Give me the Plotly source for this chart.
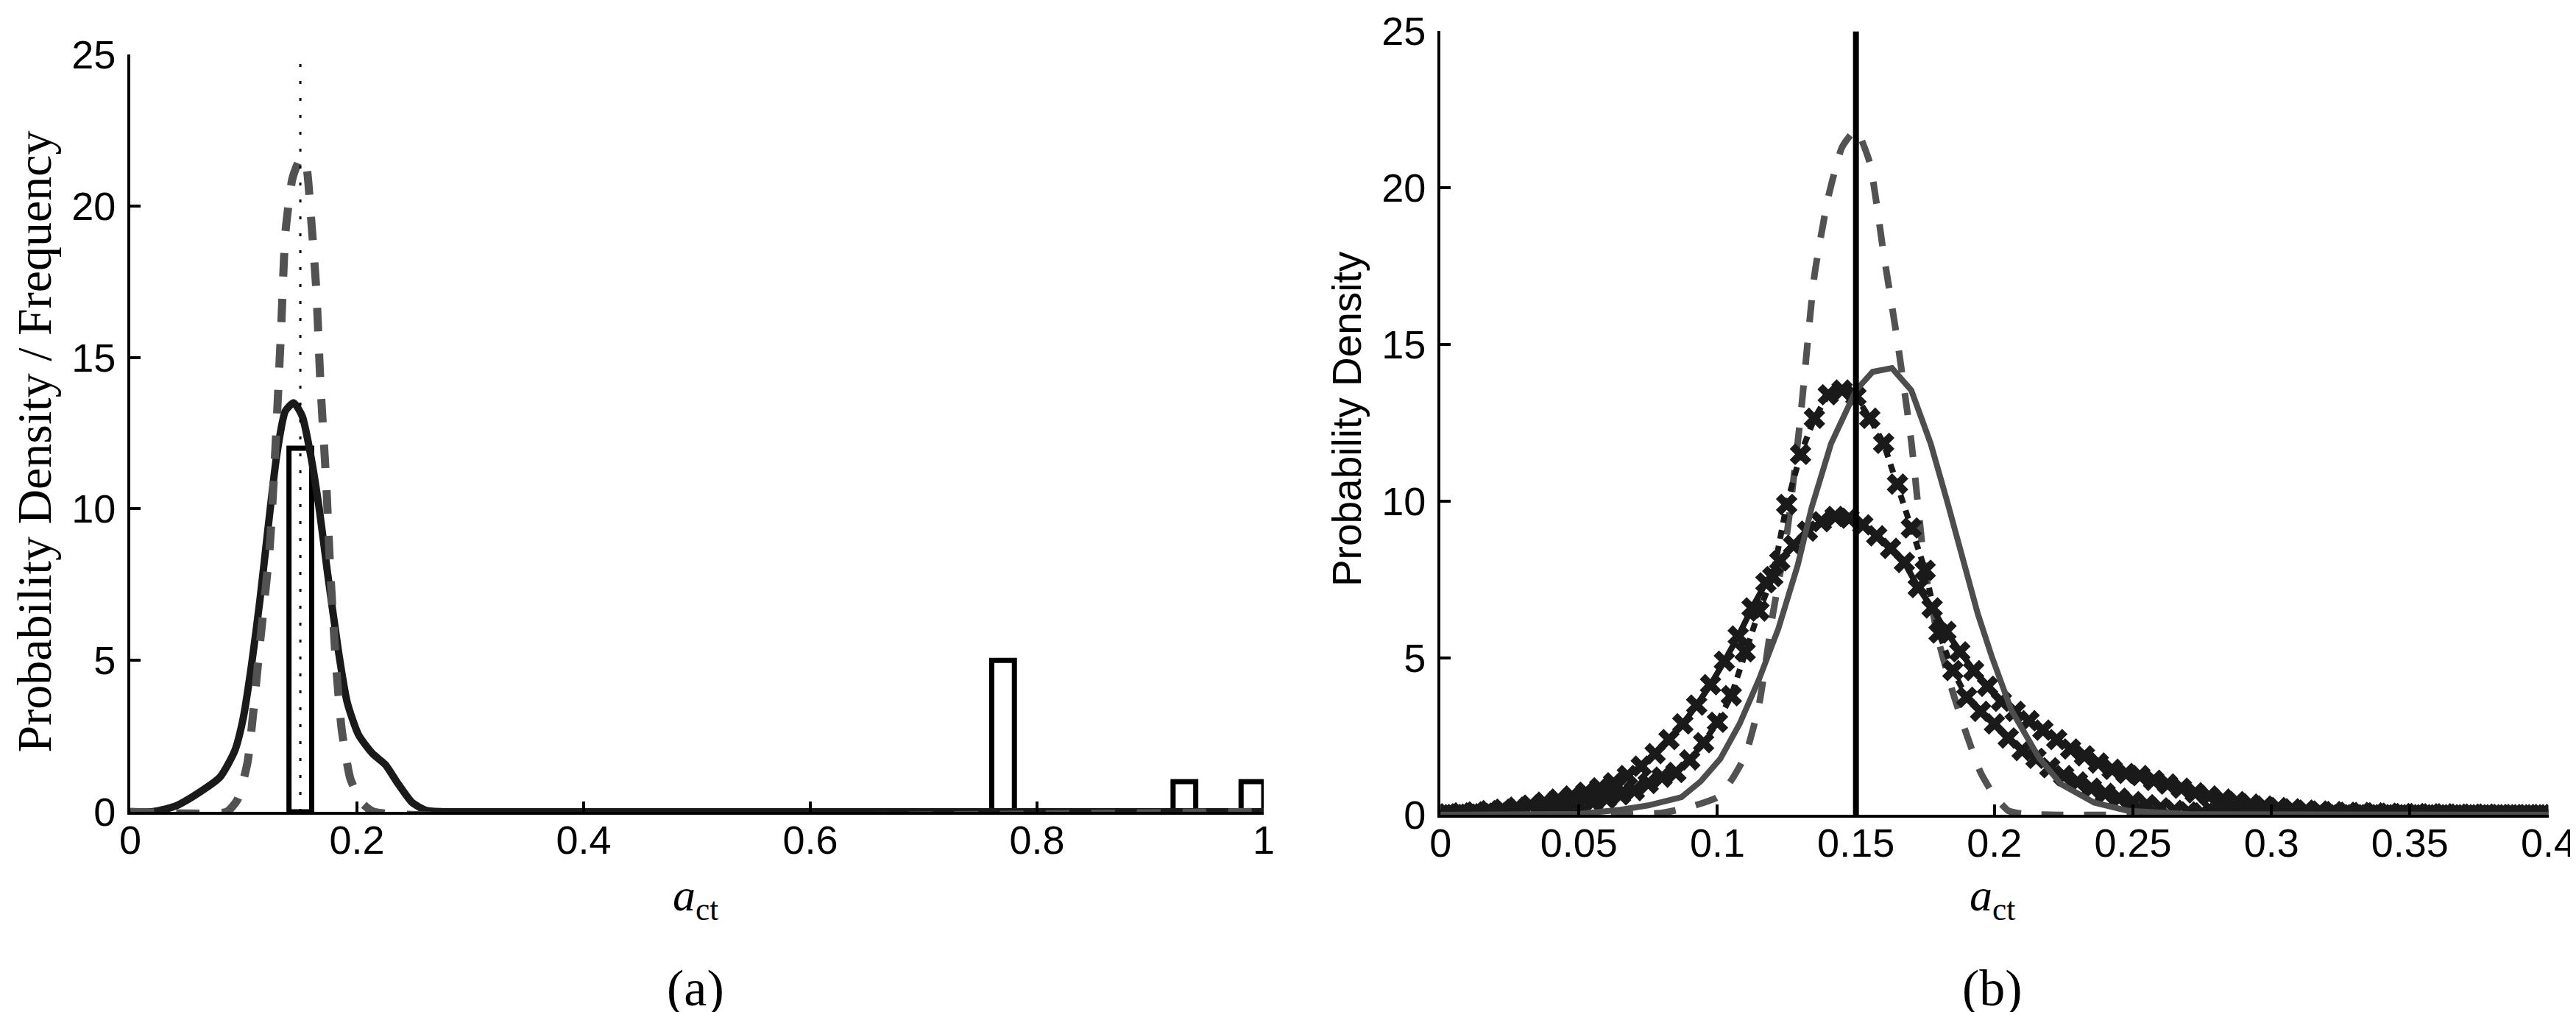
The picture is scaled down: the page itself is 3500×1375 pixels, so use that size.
import plotly.graph_objects as go

# ---- panel (a): histogram + densities ----
hist_centers = [0.15, 0.77, 0.93, 0.99]
hist_counts = [12, 5, 1, 1]
hist_width = 0.02

kde_x = [0, 0.02, 0.04, 0.062, 0.079, 0.092, 0.0995, 0.107, 0.1144, 0.1219, 0.1293,
         0.1368, 0.1442, 0.1517, 0.159, 0.1666, 0.174, 0.184, 0.1914, 0.2014, 0.2138,
         0.225, 0.236, 0.2486, 0.261, 0.28, 1.0]
kde_y = [0, 0.01, 0.19, 0.67, 1.14, 2.0, 3.07, 4.86, 7.0, 9.49, 11.8,
         13.23, 13.5, 13.06, 11.8, 10.03, 7.89, 5.21, 3.61, 2.54, 1.92,
         1.56, 0.94, 0.31, 0.05, 0, 0]

prior_a_x = [0, 0.085, 0.0945, 0.1035, 0.1144, 0.1231, 0.128, 0.133, 0.1368, 0.143,
             0.1505, 0.1555, 0.159, 0.164, 0.1678, 0.1728, 0.1765, 0.1815, 0.1865,
             0.194, 0.204, 0.215, 1.0]
prior_a_y = [0, 0, 0.4, 1.65, 5.57, 8.78, 11.99, 15.9, 19.1, 20.9,
             21.6, 21.26, 19.83, 17.3, 14.1, 10.9, 7.9, 4.86, 2.72,
             1.11, 0.31, 0, 0]

true_value = 0.15

# ---- panel (b): densities ----
prior_b_x = [0, 0.06, 0.08, 0.09, 0.1, 0.105, 0.11, 0.115, 0.12, 0.125, 0.13, 0.135,
             0.14, 0.145, 0.15, 0.155, 0.16, 0.165, 0.17, 0.175, 0.18, 0.185, 0.19,
             0.195, 0.2, 0.205, 0.21, 0.22, 0.4]
prior_b_y = [0, 0, 0.06, 0.25, 0.56, 1.1, 1.88, 3.5, 6.4, 8.9, 12.7, 17.2,
             19.7, 21.3, 21.85, 20.8, 17.9, 15.1, 11.9, 7.8, 5.5, 3.9, 2.55,
             1.35, 0.6, 0.13, 0.03, 0, 0]

post_x = [0, 0.05, 0.065, 0.075, 0.087, 0.094, 0.101, 0.108, 0.115, 0.122, 0.129,
          0.134, 0.141, 0.15, 0.156, 0.163, 0.17, 0.177, 0.183, 0.189, 0.194, 0.199,
          0.206, 0.216, 0.224, 0.236, 0.248, 0.271, 0.4]
post_y = [0, 0.03, 0.16, 0.3, 0.56, 1.07, 1.78, 2.9, 4.32, 5.94, 7.97,
          9.8, 11.84, 13.54, 14.13, 14.25, 13.54, 11.84, 9.98, 8.11, 6.41, 5.06,
          3.36, 1.83, 0.98, 0.39, 0.13, 0.02, 0]

narrow_x = [0, 0.005, 0.01, 0.015, 0.02, 0.025, 0.03, 0.035, 0.04, 0.045,
            0.05, 0.055, 0.06, 0.065, 0.07, 0.075, 0.08, 0.085, 0.09, 0.095,
            0.1, 0.105, 0.11, 0.115, 0.12, 0.125, 0.13, 0.135, 0.14, 0.145,
            0.15, 0.155, 0.16, 0.165, 0.17, 0.175, 0.18, 0.185, 0.19, 0.195,
            0.2, 0.205, 0.21, 0.215, 0.22, 0.225, 0.23, 0.235, 0.24, 0.245,
            0.25, 0.255, 0.26, 0.265, 0.27, 0.275, 0.28, 0.285, 0.29, 0.295,
            0.3, 0.305, 0.31, 0.315, 0.32, 0.325, 0.33, 0.335, 0.34, 0.345,
            0.35, 0.355, 0.36, 0.365, 0.37, 0.375, 0.38, 0.385, 0.39, 0.395, 0.4]
narrow_y = [0.0, 0.01, 0.02, 0.03, 0.05, 0.07, 0.09, 0.12, 0.15, 0.22,
            0.3, 0.4, 0.52, 0.64, 0.77, 1.0, 1.2, 1.35, 1.75, 2.3,
            2.95, 3.8, 5.2, 6.5, 7.6, 9.9, 11.5, 12.65, 13.4, 13.55,
            13.35, 12.65, 11.85, 10.55, 9.15, 7.8, 5.8, 4.6, 3.75, 3.3,
            2.9, 2.45, 2.05, 1.8, 1.5, 1.25, 1.05, 0.85, 0.68, 0.53,
            0.42, 0.32, 0.22, 0.14, 0.09, 0.06, 0.04, 0.03, 0.02, 0.01,
            0.01, 0, 0, 0, 0, 0, 0, 0, 0, 0,
            0, 0, 0, 0, 0, 0, 0, 0, 0, 0, 0]

broad_x = [0.0025, 0.0075, 0.0125, 0.0175, 0.0225, 0.0275, 0.0325, 0.0375, 0.0425, 0.0475,
           0.0525, 0.0575, 0.0625, 0.0675, 0.0725, 0.0775, 0.0825, 0.0875, 0.0925, 0.0975,
           0.1025, 0.1075, 0.1125, 0.1175, 0.1225, 0.1275, 0.1325, 0.1375, 0.1425, 0.1475,
           0.1525, 0.1575, 0.1625, 0.1675, 0.1725, 0.1775, 0.1825, 0.1875, 0.1925, 0.1975,
           0.2025, 0.2075, 0.2125, 0.2175, 0.2225, 0.2275, 0.2325, 0.2375, 0.2425, 0.2475,
           0.2525, 0.2575, 0.2625, 0.2675, 0.2725, 0.2775, 0.2825, 0.2875, 0.2925, 0.2975,
           0.3025, 0.3075, 0.3125, 0.3175, 0.3225, 0.3275, 0.3325, 0.3375, 0.3425, 0.3475,
           0.3525, 0.3575, 0.3625, 0.3675, 0.3725, 0.3775, 0.3825, 0.3875, 0.3925, 0.3975]
broad_y = [0.03, 0.06, 0.09, 0.13, 0.18, 0.24, 0.31, 0.4, 0.5, 0.6,
           0.72, 0.86, 1.02, 1.25, 1.55, 1.95, 2.4, 2.9, 3.5, 4.15,
           4.9, 5.7, 6.6, 7.4, 8.1, 8.6, 9.05, 9.35, 9.52, 9.46,
           9.25, 8.9, 8.5, 8.05, 7.25, 6.6, 5.85, 5.2, 4.6, 4.1,
           3.62, 3.3, 3.0, 2.7, 2.4, 2.1, 1.88, 1.65, 1.45, 1.32,
           1.25, 1.1, 0.98, 0.85, 0.7, 0.6, 0.5, 0.42, 0.34, 0.28,
           0.23, 0.19, 0.15, 0.12, 0.1, 0.08, 0.07, 0.06, 0.05, 0.04,
           0.04, 0.03, 0.03, 0.02, 0.02, 0.02, 0.01, 0.01, 0.01, 0.01]

BLACK = '#1a1a1a'
GREY = '#525252'
SANS = 'Liberation Sans, Arial, sans-serif'
SERIF = 'Liberation Serif, Times New Roman, serif'

fig = go.Figure()

# panel (a)
fig.add_trace(go.Bar(x=hist_centers, y=hist_counts, width=hist_width,
                     marker=dict(color='white', line=dict(color='black', width=7)),
                     xaxis='x', yaxis='y'))
fig.add_trace(go.Scatter(x=kde_x, y=kde_y, mode='lines',
                         line=dict(color=BLACK, width=10, shape='spline', smoothing=0.6),
                         xaxis='x', yaxis='y'))
fig.add_trace(go.Scatter(x=prior_a_x, y=prior_a_y, mode='lines',
                         line=dict(color=GREY, width=11, dash='32px,30px',
                                   shape='spline', smoothing=0.5),
                         xaxis='x', yaxis='y'))
fig.add_trace(go.Scatter(x=[true_value, true_value], y=[0, 25], mode='lines',
                         line=dict(color='black', width=3, dash='4px,19px'),
                         xaxis='x', yaxis='y'))

# panel (b)
fig.add_trace(go.Scatter(x=prior_b_x, y=prior_b_y, mode='lines',
                         line=dict(color=GREY, width=9, dash='30px,28px',
                                   shape='spline', smoothing=0.5),
                         xaxis='x2', yaxis='y2'))
fig.add_trace(go.Scatter(x=broad_x, y=broad_y, mode='lines+markers',
                         line=dict(color=BLACK, width=8),
                         marker=dict(symbol='x', size=26, color=BLACK),
                         xaxis='x2', yaxis='y2'))
fig.add_trace(go.Scatter(x=narrow_x, y=narrow_y, mode='lines+markers',
                         line=dict(color=BLACK, width=8, dash='12px,10px'),
                         marker=dict(symbol='x', size=26, color=BLACK),
                         xaxis='x2', yaxis='y2'))
fig.add_trace(go.Scatter(x=post_x, y=post_y, mode='lines',
                         line=dict(color='#4d4d4d', width=8),
                         xaxis='x2', yaxis='y2'))
fig.add_trace(go.Scatter(x=[true_value, true_value], y=[0, 25], mode='lines',
                         line=dict(color='black', width=8),
                         xaxis='x2', yaxis='y2'))

axis_style = dict(showline=True, linecolor='black', linewidth=4, mirror=False,
                  ticks='inside', ticklen=14, tickwidth=4, tickcolor='black',
                  showgrid=False, zeroline=False, automargin=False,
                  ticklabeloverflow='allow',
                  tickfont=dict(family=SANS, size=54, color='black'))

fig.update_layout(
    width=3500, height=1375,
    margin=dict(l=0, r=0, t=0, b=0, autoexpand=False),
    paper_bgcolor='white', plot_bgcolor='white',
    showlegend=False, barmode='overlay',
    xaxis=dict(domain=[0.0483, 0.4883], range=[0, 1], anchor='y', ticklabelstandoff=-12,
               tickvals=[0, 0.2, 0.4, 0.6, 0.8, 1], ticktext=['0', '0.2', '0.4', '0.6', '0.8', '1'],
               **axis_style),
    yaxis=dict(domain=[0.2036, 0.952], range=[0, 25], anchor='x', ticklabelstandoff=5,
               tickvals=[0, 5, 10, 15, 20, 25], **axis_style),
    xaxis2=dict(domain=[0.5569, 0.987], range=[0, 0.4], anchor='y2', ticklabelstandoff=-12,
                tickvals=[0, 0.05, 0.1, 0.15, 0.2, 0.25, 0.3, 0.35, 0.4],
                ticktext=['0', '0.05', '0.1', '0.15', '0.2', '0.25', '0.3', '0.35', '0.4'],
                **axis_style),
    yaxis2=dict(domain=[0.2007, 0.975], range=[0, 25], anchor='x2', ticklabelstandoff=5,
                tickvals=[0, 5, 10, 15, 20, 25], **axis_style),
)

ann = [
    dict(text='Probability Density / Frequency', x=0.0, y=0.5695, textangle=-90,
         xanchor='left', yanchor='middle',
         font=dict(family=SERIF, size=66, color='black')),
    dict(text='Probability Density', x=0.5206, y=0.592, textangle=-90,
         xanchor='center', yanchor='middle',
         font=dict(family=SANS, size=55, color='black')),
    dict(text='<i>a</i><sub>ct</sub>', x=0.2677, y=0.1185,
         xanchor='center', yanchor='middle',
         font=dict(family=SERIF, size=62, color='black')),
    dict(text='(a)', x=0.2677, y=0.0, xanchor='center', yanchor='bottom',
         font=dict(family=SERIF, size=70, color='black')),
    dict(text='<i>a</i><sub>ct</sub>', x=0.771, y=0.1185,
         xanchor='center', yanchor='middle',
         font=dict(family=SERIF, size=62, color='black')),
    dict(text='(b)', x=0.771, y=0.0, xanchor='center', yanchor='bottom',
         font=dict(family=SERIF, size=70, color='black')),
]
for a in ann:
    fig.add_annotation(xref='paper', yref='paper', showarrow=False, **a)

fig.write_html("out.html")
